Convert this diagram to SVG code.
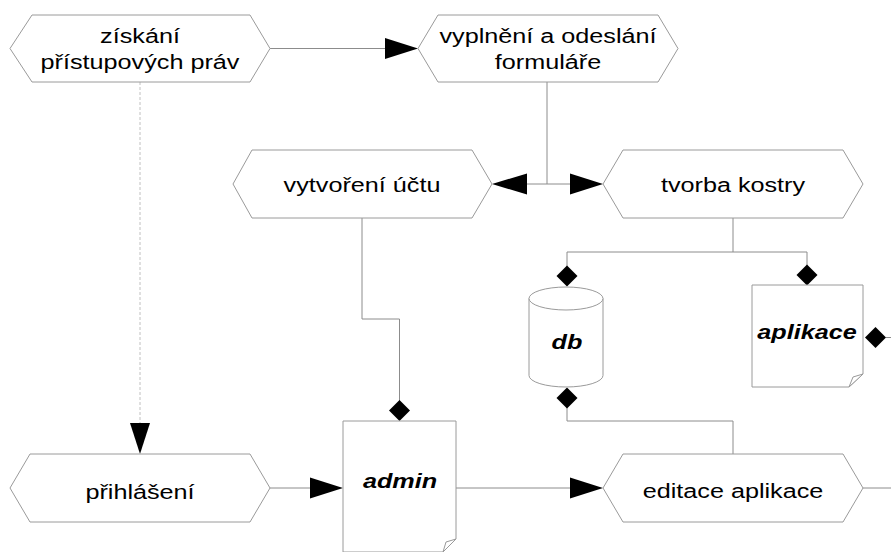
<svg xmlns="http://www.w3.org/2000/svg" width="891" height="552" viewBox="0 0 891 552">
<style>
.node{fill:#fff;stroke:#9a9a9a;stroke-width:1}
.t{font-family:"Liberation Sans",Arial,sans-serif;font-size:21px;fill:#000;text-anchor:middle}
.b{font-weight:bold;font-style:italic}
.ln{fill:none;stroke:#8c8c8c;stroke-width:1}
.dash{fill:none;stroke:#c0c0c0;stroke-width:1;stroke-dasharray:3 2}
.ah{fill:#000;stroke:none}
</style>
<rect width="891" height="552" fill="#fff"/>
<g id="connectors">
  <path class="ln" d="M270,48.5 H390"/>
  <polygon class="ah" points="385,38 418,48.5 385,59"/>
  <path class="dash" d="M140,82 V426"/>
  <polygon class="ah" points="130,423 150,423 140,454"/>
  <path class="ln" d="M547,82 V184 M520,184 H575"/>
  <polygon class="ah" points="527,173.5 492,184 527,194.5"/>
  <polygon class="ah" points="570,173.5 603,184 570,194.5"/>
  <path class="ln" d="M362,218 V319 H399.5 V402"/>
  <polygon class="ah" points="399.5,400 410,410.5 399.5,421 389,410.5"/>
  <path class="ln" d="M733,218 V252 H567 V268 M733,252 H807 V266"/>
  <polygon class="ah" points="567,265.5 577.5,276 567,286.5 556.5,276"/>
  <polygon class="ah" points="807,264.5 817.5,275 807,285.5 796.5,275"/>
  <polygon class="ah" points="875.5,327 886,337.5 875.5,348 865,337.5"/>
  <path class="ln" d="M886,337.5 H891"/>
  <path class="ln" d="M567,405 V421 H733 V454"/>
  <polygon class="ah" points="567,387.5 577.5,398 567,408.5 556.5,398"/>
  <path class="ln" d="M270,488 H315"/>
  <polygon class="ah" points="310,477.5 343,488 310,498.5"/>
  <path class="ln" d="M456,488 H575"/>
  <polygon class="ah" points="570,477.5 603,488 570,498.5"/>
  <path class="ln" d="M863,488 H891"/>
</g>
<g id="ziskani">
  <polygon class="node" points="10,48.5 32,15 250,15 270,48.5 250,82 32,82"/>
  <text class="t" transform="translate(140,43) scale(1.2,1)">získání</text>
  <text class="t" transform="translate(140,69) scale(1.2,1)">přístupových práv</text>
</g>
<g id="vyplneni">
  <polygon class="node" points="418,48.5 438,15 658,15 678,48.5 658,82 438,82"/>
  <text class="t" transform="translate(548,43) scale(1.2,1)">vyplnění a odeslání</text>
  <text class="t" transform="translate(548,69) scale(1.2,1)">formuláře</text>
</g>
<g id="vytvoreni">
  <polygon class="node" points="233,184 252,150 472,150 492,184 472,218 252,218"/>
  <text class="t" transform="translate(362,192) scale(1.2,1)">vytvoření účtu</text>
</g>
<g id="tvorba">
  <polygon class="node" points="603,184 623,150 843,150 863,184 843,218 623,218"/>
  <text class="t" transform="translate(733,192) scale(1.2,1)">tvorba kostry</text>
</g>
<g id="db">
  <path class="node" d="M529,298.5 A37,11.5 0 0 1 603,298.5 V375.5 A37,11.5 0 0 1 529,375.5 Z"/>
  <path class="node" fill="none" d="M529,298.5 A37,11.5 0 0 0 603,298.5"/>
  <text class="t b" transform="translate(567,349) scale(1.2,1)">db</text>
</g>
<g id="aplikace">
  <path class="node" d="M752,285 H863 V374 L849,387 H752 Z"/>
  <polygon class="node" points="863,374 853,377 849,387"/>
  <text class="t b" transform="translate(807,339) scale(1.2,1)">aplikace</text>
</g>
<g id="prihlaseni">
  <polygon class="node" points="10,488 30,454 250,454 270,488 250,522 30,522"/>
  <text class="t" transform="translate(140,499) scale(1.2,1)">přihlášení</text>
</g>
<g id="admin">
  <path class="node" d="M343,421 H456 V539 L443,552 H343 Z"/>
  <polygon class="node" points="456,539 446,542 443,552"/>
  <text class="t b" transform="translate(400,488) scale(1.2,1)">admin</text>
</g>
<g id="editace">
  <polygon class="node" points="603,488 623,454 843,454 863,488 843,522 623,522"/>
  <text class="t" transform="translate(733,498) scale(1.2,1)">editace aplikace</text>
</g>
</svg>
